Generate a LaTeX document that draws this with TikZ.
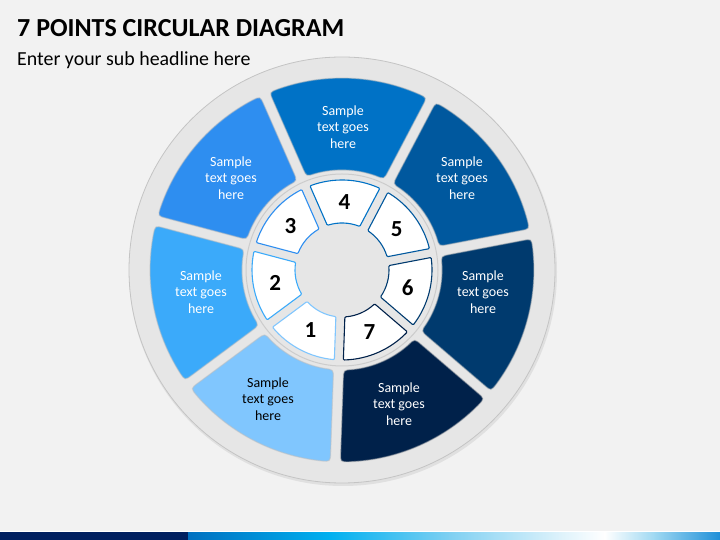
\documentclass[tikz,border=0pt]{standalone}
\usepackage{fontspec}
\setmainfont{Carlito}
\usetikzlibrary{calc}
\definecolor{bg}{HTML}{F2F2F2}
\definecolor{ring}{HTML}{E6E6E6}
\definecolor{ringedge}{HTML}{C4C4C4}
\definecolor{cA}{HTML}{80C6FE}
\definecolor{cB}{HTML}{3BAAFA}
\definecolor{cC}{HTML}{2E8EF0}
\definecolor{cD}{HTML}{0072C6}
\definecolor{cE}{HTML}{00589E}
\definecolor{cF}{HTML}{003A6E}
\definecolor{cG}{HTML}{00214A}
\definecolor{navy}{HTML}{002060}
\definecolor{sA}{HTML}{0070C0}
\definecolor{sB}{HTML}{00B0F0}
\definecolor{sC}{HTML}{7FD0F2}
\definecolor{sD}{HTML}{DDF2FB}
\definecolor{sE}{HTML}{9ED8F2}
\definecolor{sF}{HTML}{1E8FD8}
\newcommand\drawseg[7]{%
 \pgfmathsetmacro\sA{#2+asin(#6/(#4+#7))}%
 \pgfmathsetmacro\sB{#2+asin(#6/(#5-#7))}%
 \pgfmathsetmacro\cA{#2+asin(#6/#5)}%
 \pgfmathsetmacro\aA{\cA+#7/#5*57.2958}%
 \pgfmathsetmacro\cB{#3-asin(#6/#5)}%
 \pgfmathsetmacro\aB{\cB-#7/#5*57.2958}%
 \pgfmathsetmacro\sC{#3-asin(#6/(#5-#7))}%
 \pgfmathsetmacro\sD{#3-asin(#6/(#4+#7))}%
 \pgfmathsetmacro\cC{#3-asin(#6/#4)}%
 \pgfmathsetmacro\aC{\cC-#7/#4*57.2958}%
 \pgfmathsetmacro\cD{#2+asin(#6/#4)}%
 \pgfmathsetmacro\aD{\cD+#7/#4*57.2958}%
 \pgfmathsetmacro\rA{#4+#7}%
 \pgfmathsetmacro\rB{#5-#7}%
 \path[#1] (\sA:\rA) -- (\sB:\rB) .. controls (\cA:#5) .. (\aA:#5)
   arc[start angle=\aA, end angle=\aB, radius=#5]
   .. controls (\cB:#5) .. (\sC:\rB) -- (\sD:\rA)
   .. controls (\cC:#4) .. (\aC:#4)
   arc[start angle=\aC, end angle=\aD, radius=#4]
   .. controls (\cD:#4) .. (\sA:\rA) -- cycle;
}
\tikzset{
  title/.style={anchor=base west, inner sep=0pt, font=\bfseries\fontsize{26}{30}\selectfont},
  subtitle/.style={anchor=base west, inner sep=0pt, font=\fontsize{19.9}{23}\selectfont},
  bodytext/.style={align=center, inner sep=0pt, font=\fontsize{14}{16.7}\selectfont},
  numtext/.style={inner sep=0pt, font=\bfseries\fontsize{23}{25}\selectfont},
  outerseg/.style={fill=#1, draw=black!25, draw opacity=0.5, line width=1.2pt},
  innerseg/.style={fill=white, draw=#1, line width=1.1pt},
}
\begin{document}
\begin{tikzpicture}[x=1pt,y=1pt]
\fill[bg] (0,0) rectangle (720,540);
\useasboundingbox (0,0) rectangle (720,540);
% bottom strip
\fill[navy] (0,0) rectangle (188,8);
\shade[left color=sA, right color=sB] (188,0) rectangle (330,8);
\shade[left color=sB, right color=sC] (329.5,0) rectangle (450,8);
\shade[left color=sC, right color=sD] (449.5,0) rectangle (560,8);
\shade[left color=sD, right color=white] (559.5,0) rectangle (605,8);
\shade[left color=white, right color=sE] (604.5,0) rectangle (655,8);
\shade[left color=sE, right color=sF] (654.5,0) rectangle (720,8);
\draw[white, line width=0.8pt] (0,8.4) -- (720,8.4);
% titles
\node[title] (ttl) at (17,503) {7 POINTS CIRCULAR DIAGRAM};
\node[subtitle] (sub) at (17,474) {Enter your sub headline here};
\begin{scope}[shift={(342,270)}]
  \fill[black!12] (1,-2) circle[radius=214];
  \filldraw[fill=ring, draw=ringedge, line width=0.8pt] (0,0) circle[radius=213];
  % outer segments
  \foreach \k/\col in {1/cA,2/cB,3/cC,4/cD,5/cE,6/cF,7/cG}{
    \pgfmathsetmacro\th{88-(\k-4)*360/7}
    \pgfmathsetmacro\bo{\th-25.714}
    \pgfmathsetmacro\bt{\th+25.714}
    \drawseg{outerseg=\col}{\bo}{\bt}{100}{192}{5}{9}
  }
  \filldraw[fill=ring, draw=black!20, line width=1pt] (0,0) circle[radius=96];
  \foreach \k/\col in {1/cA,2/cB,3/cC,4/cD,5/cE,6/cF,7/cG}{
    \pgfmathsetmacro\th{88-(\k-4)*360/7}
    \pgfmathsetmacro\bo{\th-25.714}
    \pgfmathsetmacro\bt{\th+25.714}
    \drawseg{innerseg=\col}{\bo}{\bt}{47}{90}{4.5}{1}
    \node[numtext] (n\k) at (\th:68) {\k};
  }
\end{scope}
% outer texts
\node[bodytext, text=black] (t1) at (268,141) {Sample\\text goes\\here};
\node[bodytext, text=white] (t2) at (201,248) {Sample\\text goes\\here};
\node[bodytext, text=white] (t3) at (231,362) {Sample\\text goes\\here};
\node[bodytext, text=white] (t4) at (343,413) {Sample\\text goes\\here};
\node[bodytext, text=white] (t5) at (462,362) {Sample\\text goes\\here};
\node[bodytext, text=white] (t6) at (483,248) {Sample\\text goes\\here};
\node[bodytext, text=white] (t7) at (399,136) {Sample\\text goes\\here};
\end{tikzpicture}
\end{document}
